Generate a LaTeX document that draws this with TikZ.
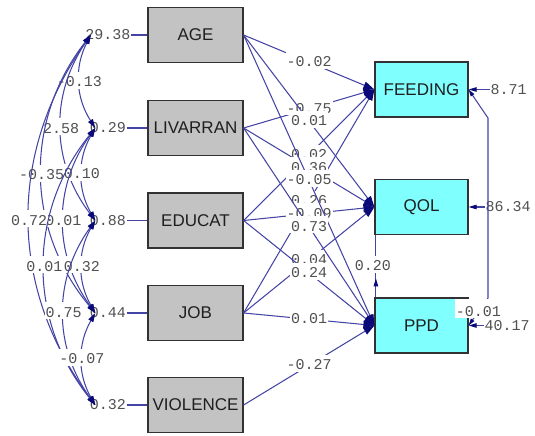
\documentclass[tikz,border=0pt]{standalone}
\usepackage{fontspec}
\setmainfont{Liberation Sans}
\newfontfamily\numfont{Liberation Mono}
\usetikzlibrary{arrows.meta,decorations.markings}
\definecolor{linec}{RGB}{68,68,165}
\definecolor{headc}{RGB}{10,10,120}
\definecolor{numc}{RGB}{80,80,80}
\definecolor{grayfill}{RGB}{195,195,195}
\definecolor{cyanfill}{RGB}{128,255,255}
\definecolor{boxline}{RGB}{50,50,50}
\begin{document}
\begin{tikzpicture}[x=1pt,y=-1pt,
  obsx/.style={draw=boxline, line width=1.2pt, fill=grayfill, minimum width=95pt, minimum height=55pt, inner sep=0pt, font=\fontsize{17}{17}\selectfont, text=black!88},
  obsy/.style={obsx, fill=cyanfill, minimum width=93pt},
  numtxt/.style={font=\numfont\fontsize{15}{15}\selectfont, text=numc, inner sep=0.5pt},
  lab/.style={numtxt, fill=white, inner xsep=1pt, inner ysep=0.5pt, text height=14.5pt, text depth=1.5pt, anchor=base, yshift=-4.7pt},
  spath/.style={draw=linec, line width=1.05pt, -{Triangle[length=11pt,width=7.5pt,color=headc]}},
  covar/.style={draw=linec, line width=1.05pt, {Triangle[length=9pt,width=5.5pt,color=headc]}-{Triangle[length=9pt,width=5.5pt,color=headc]}},
  errarr/.style={draw=linec, line width=1.05pt, -{Triangle[length=8pt,width=4.5pt,color=headc]}},
  plainline/.style={draw=linec, line width=1.05pt}
]
\useasboundingbox (0,0) rectangle (535,436);

% boxes
\node[obsx] (age) at (195.5,35) {AGE};
\node[obsx] (liv) at (195.5,128) {LIVARRAN};
\node[obsx] (edu) at (195.5,220.5) {EDUCAT};
\node[obsx] (job) at (195.5,313) {JOB};
\node[obsx] (vio) at (195.5,405) {VIOLENCE};
\node[obsy] (feed) at (421.5,89.5) {FEEDING};
\node[obsy] (qol) at (421.5,207) {QOL};
\node[obsy] (ppd) at (421.5,325.5) {PPD};

% left variance labels
\node[numtxt] (vage) at (108,35) {29.38};
\node[numtxt] (vliv) at (108,128) {0.29};
\node[numtxt] (vedu) at (108,220.5) {0.88};
\node[numtxt] (vjob) at (108,313) {0.44};
\node[numtxt] (vvio) at (108,405) {0.32};
\draw[plainline] (vage.east) -- (age.west);
\draw[plainline] (vliv.east) -- (liv.west);
\draw[plainline] (vedu.east) -- (edu.west);
\draw[plainline] (vjob.east) -- (job.west);
\draw[plainline] (vvio.east) -- (vio.west);

% covariances among exogenous variables
\draw[covar] ([xshift=6pt]vage.west) to[bend right=30] node[lab] {-0.13} ([xshift=6pt]vliv.west);
\draw[covar] ([xshift=6pt]vage.west) to[bend right=36] node[lab] {2.58} ([xshift=6pt]vedu.west);
\draw[covar] ([xshift=6pt]vliv.west) to[bend right=30] node[lab] {0.10} ([xshift=6pt]vedu.west);
\draw[covar] ([xshift=6pt]vage.west) to[bend right=39] node[lab] {-0.35} ([xshift=6pt]vjob.west);
\draw[covar] ([xshift=6pt]vliv.west) to[bend right=36] node[lab] {0.01} ([xshift=6pt]vjob.west);
\draw[covar] ([xshift=6pt]vedu.west) to[bend right=30] node[lab] {0.32} ([xshift=6pt]vjob.west);
\draw[covar] ([xshift=6pt]vage.west) to[bend right=36] node[lab] {0.72} ([xshift=6pt]vvio.west);
\draw[covar] ([xshift=6pt]vliv.west) to[bend right=39] node[lab] {0.01} ([xshift=6pt]vvio.west);
\draw[covar] ([xshift=6pt]vedu.west) to[bend right=36] node[lab] {0.75} ([xshift=6pt]vvio.west);
\draw[covar] ([xshift=6pt]vjob.west) to[bend right=30] node[lab] {-0.07} ([xshift=6pt]vvio.west);

% structural paths
\draw[spath] (age.east) -- node[lab] {-0.02} (feed.west);
\draw[spath] (liv.east) -- node[lab] {-0.75} (feed.west);
\draw[spath] (edu.east) -- node[lab] {0.02} (feed.west);
\draw[spath] (job.east) -- node[lab] {0.26} (feed.west);
\draw[spath] (age.east) -- node[lab] {0.01} (qol.west);
\draw[spath] (liv.east) -- node[lab] {0.36} (qol.west);
\draw[spath] (edu.east) -- node[lab] {-0.09} (qol.west);
\draw[spath] (job.east) -- node[lab] {0.04} (qol.west);
\draw[spath] (age.east) -- node[lab] {-0.05} (ppd.west);
\draw[spath] (liv.east) -- node[lab] {0.73} (ppd.west);
\draw[spath] (edu.east) -- node[lab] {0.24} (ppd.west);
\draw[spath] (job.east) -- node[lab] {0.01} (ppd.west);
\draw[spath] (vio.east) -- node[lab] {-0.27} (ppd.west);

% QOL -- PPD
\draw[plainline, postaction={decorate}, decoration={markings, mark=at position 19pt with {\arrow[headc]{Triangle[length=8pt,width=4.5pt]}}}]
  ([xshift=1.5pt]ppd.north west) -- node[lab, xshift=-3pt] {0.20} ([xshift=1.5pt]qol.south west);

% right variance labels
\node[numtxt, anchor=west] (vfeed) at (490,89.5) {8.71};
\node[numtxt, anchor=west] (vqol) at (485,207) {86.34};
\node[numtxt, anchor=west] (vppd) at (484,325.5) {40.17};
\draw[errarr] (vfeed.west) -- (feed.east);
\draw[errarr] (vqol.west) -- (qol.east);
\draw[errarr] (vppd.west) -- (ppd.east);

% error covariance FEEDING -- PPD
\coordinate (k1) at (488,118);
\coordinate (k2) at (488,298);
\draw[plainline, {Triangle[length=7pt,width=4pt,color=headc]}-{Triangle[length=7pt,width=4pt,color=headc]}]
  (feed.east) -- (k1) -- (k2) -- node[lab, text height=17pt] {-0.01} (ppd.east);
\end{tikzpicture}
\end{document}
